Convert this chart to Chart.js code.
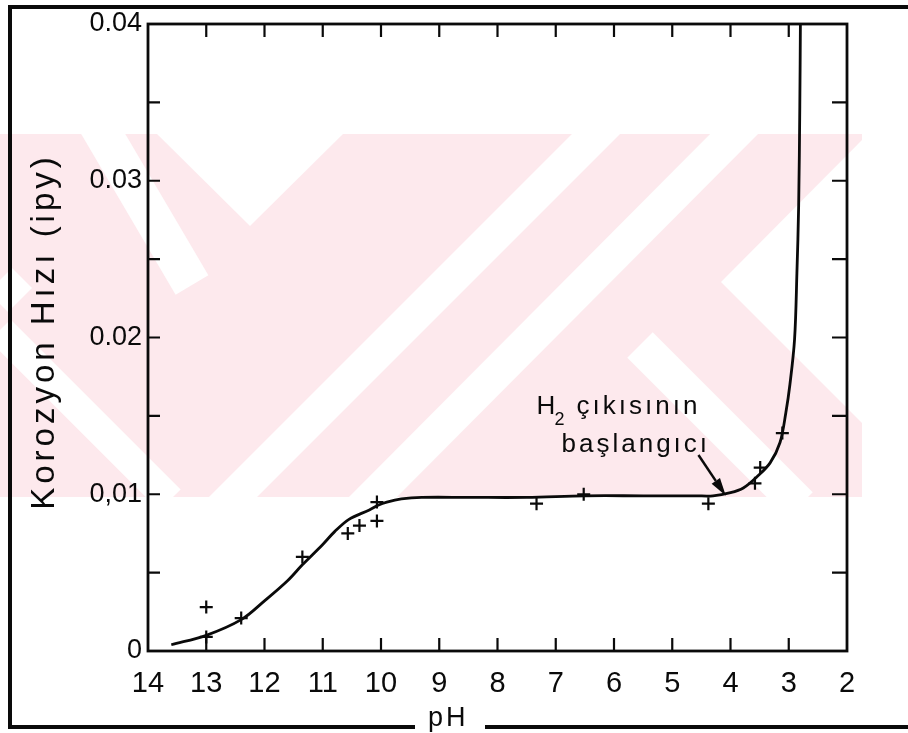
<!DOCTYPE html>
<html>
<head>
<meta charset="utf-8">
<script src="https://cdn.jsdelivr.net/npm/chart.js@4.4.1/dist/chart.umd.min.js"></script>
<style>
html,body{margin:0;padding:0;background:#fff;}
#wrap{position:relative;width:908px;height:733px;}
</style>
</head>
<body>
<div id="wrap"><canvas id="c" width="908" height="733"></canvas></div>
<script>
// ---- data ----
const curvePH   = [13.6, 13.0, 12.4, 12.0, 11.6, 11.35, 11.0, 10.8, 10.55, 10.2, 10.05, 9.9, 9.65, 9.3, 8.5, 7.5, 6.5, 5.5, 4.6, 4.3, 4.0, 3.78, 3.55, 3.32, 3.15, 3.05, 2.98, 2.9, 2.86, 2.83, 2.81, 2.8];
const curveRate = [0.0004, 0.0010, 0.0020, 0.0032, 0.0045, 0.0055, 0.0068, 0.0076, 0.0084, 0.0090, 0.0093, 0.0095, 0.0097, 0.0098, 0.0098, 0.0098, 0.0099, 0.0099, 0.0099, 0.0099, 0.0101, 0.0104, 0.0111, 0.0120, 0.0133, 0.0152, 0.0170, 0.0199, 0.0241, 0.0284, 0.0348, 0.0400];
const pointPH   = [13.0, 13.0, 12.4, 11.35, 10.57, 10.37, 10.07, 10.07, 7.33, 6.52, 4.38, 3.58, 3.49, 3.11];
const pointRate = [0.0028, 0.0009, 0.0021, 0.0060, 0.0075, 0.0080, 0.0083, 0.0095, 0.0094, 0.0100, 0.0094, 0.0107, 0.0117, 0.0139];

const xTickValues = [14, 13, 12, 11, 10, 9, 8, 7, 6, 5, 4, 3, 2];
const yTickValues = [0, 0.01, 0.02, 0.03, 0.04];
const yTickLabels = ['0', '0,01', '0.02', '0.03', '0.04'];
const yMinorValues = [0.005, 0.01, 0.015, 0.02, 0.025, 0.03, 0.035];
const xInnerTicks = [13, 12, 11, 10, 9, 8, 7, 6, 5, 4, 3];

const yTitle = 'Korozyon Hızı (ipy)';
const xTitle = 'pH';
const noteLine1a = 'H';
const noteLine1sub = '2';
const noteLine1b = 'çıkısının';
const noteLine2 = 'başlangıcı';
const noteAnchor = [7.33, 0.0151];
const arrowFrom = [4.55, 0.0125];
const arrowTo = [4.08, 0.0099];

const FONT = '"Liberation Sans", Arial, Helvetica, sans-serif';
const INK = '#0a0a0a';

const watermark = {
  id: 'watermark',
  beforeDraw(chart) {
    const ctx = chart.ctx;
    ctx.save();
    ctx.fillStyle = '#ffffff';
    ctx.fillRect(0, 0, chart.width, chart.height);
    ctx.beginPath();
    ctx.rect(0, 134, 862, 363);
    ctx.clip();
    ctx.fillStyle = '#fde9ed';
    ctx.fillRect(0, 134, 862, 363);
    ctx.strokeStyle = '#ffffff';
    ctx.fillStyle = '#ffffff';
    ctx.lineCap = 'butt';
    const bar = (x1, y1, x2, y2, w) => {
      ctx.lineWidth = w; ctx.beginPath(); ctx.moveTo(x1, y1); ctx.lineTo(x2, y2); ctx.stroke();
    };
    bar(95, 120, 192, 285, 38);
    ctx.beginPath(); ctx.moveTo(157, 134); ctx.lineTo(250, 226); ctx.lineTo(343, 134); ctx.closePath(); ctx.fill();
    bar(610, 120, 220, 510, 34);
    bar(748, 120, 360, 510, 34);
    bar(20, 300, 0, 280, 34);
    ctx.beginPath(); ctx.moveTo(862, 140); ctx.lineTo(721, 282); ctx.lineTo(862, 423); ctx.closePath(); ctx.fill();
    bar(640, 345, 800, 505, 36);
    bar(0, 330, 170, 500, 30);
    ctx.restore();
  }
};

const decor = {
  id: 'decor',
  afterDraw(chart) {
    const ctx = chart.ctx;
    const xs = chart.scales.x, ys = chart.scales.y;
    const a = chart.chartArea;
    ctx.save();
    ctx.strokeStyle = INK;
    ctx.fillStyle = INK;
    // plot box
    ctx.lineWidth = 2.8;
    ctx.strokeRect(a.left, a.top, a.right - a.left, a.bottom - a.top);
    // inward ticks
    ctx.lineWidth = 2.2;
    ctx.beginPath();
    xInnerTicks.forEach(v => {
      const px = xs.getPixelForValue(v);
      ctx.moveTo(px, a.bottom); ctx.lineTo(px, a.bottom - 13);
      ctx.moveTo(px, a.top); ctx.lineTo(px, a.top + 13);
    });
    yMinorValues.forEach(v => {
      const py = ys.getPixelForValue(v);
      ctx.moveTo(a.left, py); ctx.lineTo(a.left + 12, py);
      ctx.moveTo(a.right, py); ctx.lineTo(a.right - 15, py);
    });
    ctx.stroke();
    // outer frame
    ctx.lineWidth = 4;
    ctx.beginPath();
    ctx.moveTo(8, 7); ctx.lineTo(908, 7);
    ctx.moveTo(10, 5); ctx.lineTo(10, 729);
    ctx.moveTo(8, 727); ctx.lineTo(415, 727);
    ctx.moveTo(485, 727); ctx.lineTo(908, 727);
    ctx.stroke();
    // y title
    ctx.save();
    ctx.translate(45, (a.top + a.bottom) / 2 - 6);
    ctx.rotate(-Math.PI / 2);
    ctx.font = '33px ' + FONT;
    ctx.letterSpacing = '4px';
    ctx.textAlign = 'center';
    ctx.textBaseline = 'middle';
    ctx.fillText(yTitle, 0, 0);
    ctx.restore();
    // x title
    ctx.save();
    ctx.font = '27px ' + FONT;
    ctx.letterSpacing = '3px';
    ctx.textAlign = 'left';
    ctx.textBaseline = 'alphabetic';
    ctx.fillText(xTitle, 428, 726);
    ctx.restore();
    // annotation
    ctx.save();
    const nx = xs.getPixelForValue(noteAnchor[0]);
    const ny = ys.getPixelForValue(noteAnchor[1]);
    ctx.font = '26px ' + FONT;
    ctx.letterSpacing = '3px';
    ctx.textBaseline = 'alphabetic';
    ctx.fillText(noteLine1a, nx, ny);
    ctx.font = '18px ' + FONT;
    ctx.fillText(noteLine1sub, nx + 18, ny + 11);
    ctx.font = '26px ' + FONT;
    ctx.fillText(noteLine1b, nx + 40, ny);
    ctx.fillText(noteLine2, nx + 25, ny + 38);
    ctx.restore();
    // arrow
    const x1 = xs.getPixelForValue(arrowFrom[0]), y1 = ys.getPixelForValue(arrowFrom[1]);
    const x2 = xs.getPixelForValue(arrowTo[0]), y2 = ys.getPixelForValue(arrowTo[1]);
    const ang = Math.atan2(y2 - y1, x2 - x1);
    const hl = 18, hwid = 5;
    const bx = x2 - hl * Math.cos(ang), by = y2 - hl * Math.sin(ang);
    ctx.lineWidth = 2.5;
    ctx.beginPath(); ctx.moveTo(x1, y1); ctx.lineTo(bx, by); ctx.stroke();
    ctx.beginPath();
    ctx.moveTo(x2, y2);
    ctx.lineTo(bx + hwid * Math.sin(ang), by - hwid * Math.cos(ang));
    ctx.lineTo(bx - hwid * Math.sin(ang), by + hwid * Math.cos(ang));
    ctx.closePath(); ctx.fill();
    ctx.restore();
  }
};

new Chart(document.getElementById('c'), {
  type: 'scatter',
  data: {
    datasets: [
      {
        type: 'line',
        label: 'Korozyon hızı eğrisi',
        data: curvePH.map((x, i) => ({ x, y: curveRate[i] })),
        borderColor: INK,
        borderWidth: 2.8,
        pointRadius: 0,
        tension: 0.35,
        fill: false
      },
      {
        type: 'scatter',
        label: 'Ölçüm',
        data: pointPH.map((x, i) => ({ x, y: pointRate[i] })),
        pointStyle: 'cross',
        pointRadius: 6.5,
        borderColor: INK,
        backgroundColor: INK,
        borderWidth: 2.2
      }
    ]
  },
  options: {
    responsive: false,
    animation: false,
    devicePixelRatio: 1,
    layout: { padding: { top: 24, right: 61, left: 0, bottom: 0 } },
    plugins: { legend: { display: false }, tooltip: { enabled: false } },
    scales: {
      x: {
        type: 'linear', reverse: true, min: 2, max: 14,
        afterBuildTicks: s => { s.ticks = xTickValues.map(v => ({ value: v })); },
        afterFit: s => { s.height = 82; },
        grid: { display: false, drawTicks: false },
        border: { display: false },
        ticks: {
          font: { family: FONT, size: 29 }, color: INK, padding: 16,
          maxRotation: 0, autoSkip: false, callback: v => String(v)
        }
      },
      y: {
        type: 'linear', min: 0, max: 0.04,
        afterBuildTicks: s => { s.ticks = yTickValues.map(v => ({ value: v })); },
        afterFit: s => { s.width = 148; },
        grid: { display: false, drawTicks: false },
        border: { display: false },
        ticks: {
          font: { family: FONT, size: 27 }, color: INK, padding: 6,
          autoSkip: false, callback: (v, i) => yTickLabels[i]
        }
      }
    }
  },
  plugins: [watermark, decor]
});
</script>
</body>
</html>
